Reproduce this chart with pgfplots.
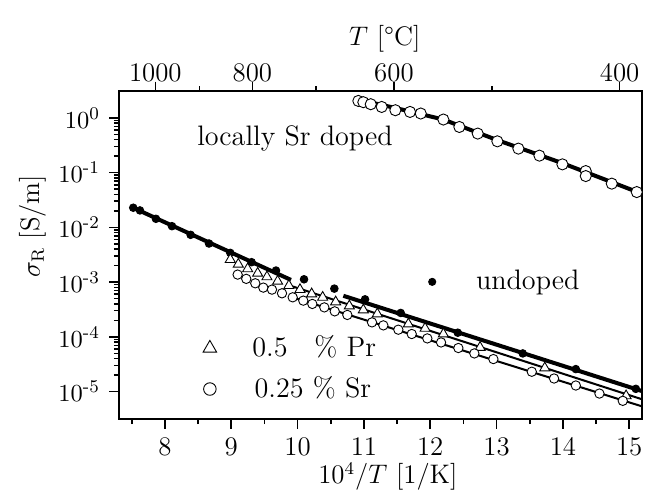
\documentclass[border=0pt,12pt]{standalone}
\usepackage{amsmath}
\usepackage{pgfplots}
\pgfplotsset{compat=1.18}
\begin{document}
\begin{tikzpicture}
\useasboundingbox (-53.2pt,-32.7pt) rectangle (235.8pt,187.5pt);
\pgfplotsset{
  common/.style={
    at={(0,0)}, anchor=south west,
    scale only axis, width=234.1pt, height=146.7pt,
    xmin=7.306, xmax=15.196,
    tick align=outside,
    major tick length=4.3pt, minor tick length=2.2pt,
    tick style={line width=0.7pt, black},
    legend cell align=left,
  }
}
\begin{axis}[
  common,
  ymode=log, ymin=3.13e-6, ymax=3.08,
  xtick={8,...,15}, minor xtick={7.5,8.5,...,14.5},
  xtick pos=left, ytick pos=left,
  ytick={1e-5,1e-4,1e-3,1e-2,1e-1,1},
  yticklabels={$10^{\text{-}5}$,$10^{\text{-}4}$,$10^{\text{-}3}$,$10^{\text{-}2}$,$10^{\text{-}1}$,$10^{0}$},
  axis line style={line width=0.8pt},
  yticklabel style={font=\small},
  xlabel={$10^4/T$ [1/K]},
  ylabel={$\sigma_{\mathrm{R}}$ [S/m]},
  xlabel style={at={(axis description cs:0.514,-0.175)}, anchor=center},
  ylabel style={at={(axis description cs:-0.164,0.588)}, anchor=center},
  legend style={draw=none, fill=none, inner sep=0pt, row sep=3pt,
    font=\fontsize{12.6}{15}\selectfont,
    at={(axis description cs:0.160,0.154)}, anchor=west},
]
% fitted lines
\addplot[line width=1.8pt, forget plot] coordinates {(7.5,0.02344) (9.9,0.001096)};
\addplot[line width=1.8pt, forget plot] coordinates {(10.69,0.000562) (15.19,1.023e-5)};
\addplot[line width=0.9pt, forget plot] coordinates {(9.85,0.000891) (15.19,7.24e-6)};
\addplot[line width=0.9pt, forget plot] coordinates {(9.9,0.000537) (15.19,5.37e-6)};
\addplot[line width=1.8pt, forget plot] coordinates {(10.92,2.16) (11.5,1.496) (12.2,0.933) (13,0.398) (14,0.148) (15.19,0.0412)};
% undoped
\addplot[only marks, mark=*, mark size=1.7pt, black, forget plot] coordinates {
(7.522,0.02286) (7.623,0.02042) (7.864,0.01435) (8.106,0.01052) (8.387,0.00731)
(8.664,0.00507) (8.985,0.00342) (9.307,0.00231) (9.674,0.001626) (10.097,0.001125)
(10.554,0.000760) (11.017,0.000484) (11.555,0.000273) (12.415,0.0001189)
(13.395,4.97e-5) (14.195,2.57e-5) (15.100,1.119e-5)};
% 0.5 % Pr
\addplot[only marks, mark=triangle*, mark size=2.6pt, mark options={fill=white, draw=black}, forget plot] coordinates {
(8.985,0.002582) (9.106,0.002118) (9.247,0.001746) (9.398,0.001449) (9.538,0.001245)
(9.699,0.001035) (9.869,0.000863) (10.036,0.000729) (10.212,0.000608) (10.378,0.000527)
(10.574,0.000434) (10.780,0.000366) (10.991,0.000310) (11.202,0.000262) (11.670,0.0001714)
(11.922,0.0001426) (12.198,0.0001125) (12.751,6.40e-5) (13.727,2.69e-5) (14.953,8.34e-6)};
% 0.25 % Sr
\addplot[only marks, mark=*, mark size=2.1pt, mark options={fill=white, draw=black}, forget plot] coordinates {
(9.096,0.001371) (9.226,0.001146) (9.362,0.000951) (9.483,0.000793) (9.614,0.000729)
(9.765,0.000624) (9.926,0.000527) (10.086,0.000458) (10.222,0.000399) (10.403,0.000345)
(10.560,0.000292) (10.750,0.000251) (11.122,0.0001837) (11.293,0.0001618) (11.519,0.0001349)
(11.721,0.0001125) (11.956,9.35e-5) (12.163,7.89e-5) (12.424,6.24e-5) (12.665,4.97e-5)
(12.952,3.92e-5) (13.531,2.30e-5) (13.867,1.730e-5) (14.195,1.288e-5) (14.551,9.18e-6)
(14.903,6.76e-6)};
% locally Sr doped
\addplot[only marks, mark=*, mark size=2.5pt, mark options={fill=white, draw=black}, forget plot] coordinates {
(10.916,2.046) (10.991,1.941) (11.103,1.782) (11.268,1.589) (11.474,1.384) (11.695,1.288)
(11.857,1.205) (12.198,0.935) (12.439,0.684) (12.716,0.518) (13.012,0.374) (13.329,0.275)
(13.646,0.2046) (13.993,0.1419) (14.345,0.1069) (14.345,0.0867) (14.737,0.0630) (15.114,0.0442)};
\node[font=\fontsize{12.6}{15}\selectfont] at (axis cs:9.96,0.425) {locally Sr doped};
\addlegendimage{only marks, mark=triangle*, mark size=3.5pt, mark options={fill=white, draw=black}}
\addlegendentry{\hspace{14pt}0.5\hspace{12pt}\% Pr}
\addlegendimage{only marks, mark=*, mark size=2.8pt, mark options={fill=white, draw=black}}
\addlegendentry{\hspace{15pt}0.25 \% Sr}
\end{axis}
\begin{axis}[
  common,
  ymin=0, ymax=1,
  axis line style={draw=none},
  ytick=\empty,
  xtick pos=right, xticklabel pos=right,
  xtick={7.8545,9.3184,11.4528,14.8555},
  xticklabels={1000,800,600,400},
  xticklabel style={yshift=-4.5pt},
  minor xtick={8.5241,10.2759,12.9341},
  xlabel={$T$ [\textdegree C]},
  xlabel style={at={(axis description cs:0.508,1.159)}, anchor=center},
  legend style={draw=none, fill=none, inner sep=0pt,
    font=\fontsize{12.6}{15}\selectfont,
    at={(axis description cs:0.591,0.4186)}, anchor=west},
]
\addlegendimage{only marks, mark=*, mark size=1.6pt, black}
\addlegendentry{\hspace{16pt}undoped}
\end{axis}
\end{tikzpicture}
\end{document}
